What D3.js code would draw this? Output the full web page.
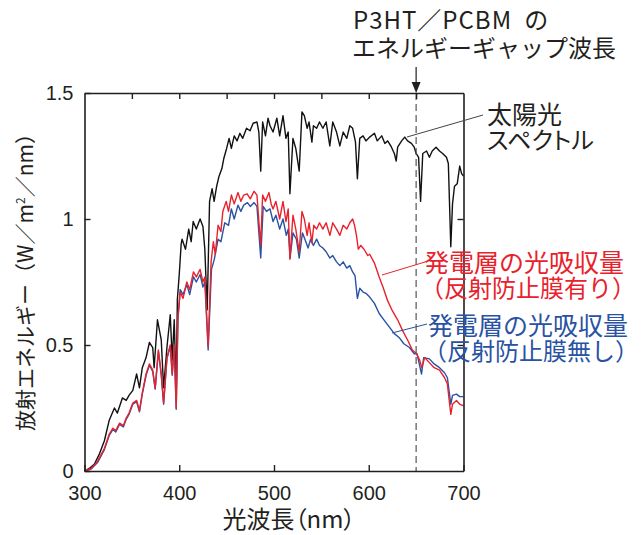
<!DOCTYPE html>
<html>
<head>
<meta charset="utf-8">
<script src="https://cdn.jsdelivr.net/npm/d3@7"></script>
<style>
  body { margin: 0; background: #fff; }
  svg { display: block; }
  .jp { font-family: "Noto Sans CJK JP", sans-serif; }
  .num { font-family: "Liberation Sans", Arial, sans-serif; }
</style>
</head>
<body>
<div id="chart"></div>
<script>
// 太陽光スペクトル [nm, W/m2/nm]
var solarSpectrum = [
    [300,0],[305,0.01],[310.5,0.028],[316,0.07],[321,0.12],[326,0.2],[331.6,0.25],[334.7,0.23],
    [340,0.29],[344,0.28],[347,0.3],[351,0.32],[355,0.385],[358,0.33],[361,0.41],[365,0.45],
    [368.5,0.51],[372,0.49],[373.5,0.41],[377,0.6],[381,0.52],[383.5,0.33],[387,0.49],[390.5,0.62],
    [392.6,0.44],[394.7,0.6],[396.8,0.31],[398,0.68],[400,0.78],[402,0.9],[403,0.92],[406.6,0.88],
    [410,0.96],[412.6,0.91],[414.7,0.99],[418,0.96],[422,1.0],[425,0.97],[427,0.88],[429.5,0.64],
    [432,1.07],[434.7,1.12],[436.8,1.07],[439.5,1.13],[442,1.17],[445,1.2],[447,1.24],[450,1.28],
    [452.6,1.32],[455,1.28],[458,1.33],[461,1.31],[464,1.34],[467,1.32],[471,1.36],[474.7,1.35],
    [478,1.38],[482,1.385],[484,1.345],[486,1.19],[488,1.385],[491,1.33],[493.7,1.4],[495.8,1.37],
    [499,1.345],[503,1.4],[506,1.33],[509.5,1.41],[512.6,1.32],[515,1.345],[516.8,1.1],[520,1.32],
    [523,1.28],[526.6,1.19],[529.5,1.425],[532,1.41],[535,1.36],[537,1.385],[540,1.305],[541.6,1.37],
    [545,1.36],[548,1.385],[551.6,1.36],[555,1.385],[558.9,1.29],[562,1.385],[566,1.345],[569.5,1.29],
    [573,1.345],[576.8,1.32],[580,1.37],[583,1.36],[586,1.305],[588,1.16],[590.5,1.32],[594,1.33],
    [597,1.31],[601,1.325],[606,1.34],[609,1.31],[613.7,1.33],[617,1.3],[620,1.31],[624,1.285],
    [627,1.26],[629,1.23],[630.5,1.285],[634.7,1.31],[638,1.325],[641,1.31],[645,1.3],[648,1.285],
    [650,1.26],[652.6,1.245],[654.7,1.07],[657,1.26],[661,1.27],[664,1.245],[667,1.27],[671,1.285],
    [674.7,1.27],[678,1.26],[682,1.245],[684,1.22],[686.6,0.89],[688.4,1.06],[690.5,1.13],[693.4,1.14],
    [696,1.21],[698,1.18],[700,1.17]
];

// 発電層の光吸収量（反射防止膜有り）
var absorbWithAR = [
    [300,0],[307,0.01],[314,0.04],[321,0.09],[326,0.145],[330,0.17],[333,0.16],[337,0.19],
    [341,0.18],[344,0.21],[347,0.23],[351,0.27],[355,0.28],[358,0.24],[361,0.31],[365,0.385],
    [368.5,0.425],[372,0.4],[374.6,0.33],[378,0.48],[381,0.385],[383.5,0.27],[387,0.45],[390.5,0.5],
    [392.6,0.385],[394.7,0.5],[396.8,0.25],[398.6,0.61],[401,0.71],[404,0.685],[408,0.75],[411,0.72],
    [415,0.79],[418,0.77],[422,0.8],[425,0.75],[427,0.77],[430.5,0.495],[433.6,0.83],[436,0.91],
    [438,0.86],[441,0.975],[444,0.95],[446,1.03],[449.5,1.07],[452,1.03],[455,1.095],[458,1.06],
    [462,1.105],[465,1.07],[468,1.095],[471.6,1.1],[475,1.08],[478.9,1.11],[482,1.095],[485.9,0.895],
    [488,1.095],[491,1.07],[494.7,1.105],[497,1.06],[499,1.04],[502,1.07],[506,1.0],[509.5,1.07],
    [512.6,0.99],[515,1.04],[516.8,0.84],[520,1.015],[523,0.96],[526.6,0.87],[529.5,1.03],[532,1.0],
    [535,0.935],[537,0.985],[540,0.905],[542,0.975],[545,0.96],[548,0.985],[551.6,0.96],[555,0.985],
    [559,0.935],[562,0.985],[566,0.96],[569.5,0.935],[573,0.975],[576.8,0.96],[580,0.985],[583,1.0],
    [585,0.975],[587,0.935],[589,0.88],[591.6,0.895],[595,0.88],[599,0.855],[601,0.86],[606,0.825],
    [611,0.77],[615,0.73],[620,0.675],[625,0.635],[630.5,0.6],[636,0.555],[641,0.52],[646,0.48],
    [650.5,0.465],[653.7,0.44],[656,0.41],[659,0.45],[664,0.43],[669,0.41],[674.7,0.4],[680,0.37],
    [683,0.345],[686.6,0.225],[688.4,0.265],[692.6,0.28],[696,0.265],[699,0.26],[700,0.26]
];

// 発電層の光吸収量（反射防止膜無し）
var absorbNoAR = [
    [300,0],[307,0.008],[314,0.035],[321,0.085],[326,0.14],[330,0.165],[333,0.155],[337,0.185],
    [341,0.175],[344,0.205],[347,0.225],[351,0.265],[355,0.275],[358,0.235],[361,0.305],[365,0.38],
    [368.5,0.42],[372,0.395],[374.6,0.325],[378,0.475],[381,0.38],[383.5,0.265],[387,0.445],[390.5,0.495],
    [392.6,0.38],[394.7,0.495],[396.8,0.245],[398.6,0.6],[401,0.72],[404,0.7],[408,0.74],[411,0.7],
    [415,0.77],[418,0.75],[422,0.78],[425,0.73],[427,0.75],[430.5,0.48],[434,0.8],[437,0.84],
    [441,0.92],[444,0.91],[448,0.985],[452,0.975],[455,1.04],[458,1.0],[462,1.055],[465,1.03],
    [468,1.055],[472,1.065],[475,1.05],[479,1.065],[482,1.05],[486,0.845],[488.6,1.05],[492,1.03],
    [495.8,1.04],[499,0.99],[502,1.015],[506,0.96],[509.5,1.0],[513,0.935],[515,0.96],[517,0.845],
    [520,0.945],[523.6,0.92],[526.6,0.845],[530,0.945],[532.6,0.92],[536,0.885],[538.6,0.92],[541.6,0.895],
    [545,0.92],[548,0.895],[551.6,0.885],[555,0.87],[559,0.845],[562,0.855],[566,0.83],[569.5,0.815],
    [573,0.83],[576.8,0.805],[580,0.815],[583,0.79],[585.5,0.775],[588,0.685],[590.5,0.725],[594,0.71],
    [597,0.705],[601,0.69],[606,0.665],[611,0.625],[616,0.6],[622,0.57],[627,0.545],[632,0.53],
    [637,0.505],[643,0.49],[648,0.465],[651,0.465],[655.7,0.385],[658,0.45],[664,0.445],[669,0.425],
    [674.7,0.41],[680,0.39],[683,0.37],[686.6,0.265],[688.4,0.3],[692.6,0.305],[696,0.295],[700,0.295]
];

var xTicks = [300, 400, 500, 600, 700];
var xMinorTicks = [350, 400, 450, 500, 550, 600, 650];
var yTicks = [0, 0.5, 1, 1.5];
var yTickLabels = ["0", "0.5", "1", "1.5"];
var gapWavelength = 650;

var width = 641, height = 535;
var plot = {left: 84.5, right: 463.5, top: 93, bottom: 471};
var ink = "#231f20";
var red = "#e8222c";
var blue = "#2952a3";

var svg = d3.select("#chart")
    .append("svg")
        .attr("width", width)
        .attr("height", height);

var x = d3.scaleLinear().domain([300, 700]).range([plot.left, plot.right]);
var y = d3.scaleLinear().domain([0, 1.5]).range([plot.bottom, plot.top]);

var line = d3.line()
    .x(function(d) { return x(d[0]); })
    .y(function(d) { return y(d[1]); });

// curves
svg.append("path").datum(solarSpectrum)
    .attr("d", line).attr("fill", "none")
    .attr("stroke", "#111").attr("stroke-width", 1.4).attr("stroke-linejoin", "round");
svg.append("path").datum(absorbNoAR)
    .attr("d", line).attr("fill", "none")
    .attr("stroke", blue).attr("stroke-width", 1.4).attr("stroke-linejoin", "round");
svg.append("path").datum(absorbWithAR)
    .attr("d", line).attr("fill", "none")
    .attr("stroke", red).attr("stroke-width", 1.4).attr("stroke-linejoin", "round");

// band gap line
svg.append("line")
    .attr("x1", x(gapWavelength)).attr("x2", x(gapWavelength))
    .attr("y1", plot.top).attr("y2", plot.bottom)
    .attr("stroke", "#555").attr("stroke-width", 1.2)
    .attr("stroke-dasharray", "7,4");
svg.append("line")
    .attr("x1", x(gapWavelength)).attr("x2", x(gapWavelength))
    .attr("y1", 67).attr("y2", 84)
    .attr("stroke", ink).attr("stroke-width", 1.2);
svg.append("path")
    .attr("d", "M" + (x(gapWavelength) - 4.5) + ",82L" + (x(gapWavelength) + 4.5) + ",82L" + x(gapWavelength) + ",93Z")
    .attr("fill", ink);

// axes (frame with inward ticks)
var axisG = svg.append("g").attr("class", "num");
axisG.append("g")
    .attr("transform", "translate(0," + plot.bottom + ")")
    .call(d3.axisBottom(x).tickValues(xTicks).tickSizeInner(-6).tickSizeOuter(0).tickPadding(15).tickFormat(d3.format("d")));
axisG.append("g")
    .attr("transform", "translate(0," + plot.top + ")")
    .call(d3.axisTop(x).tickValues(xMinorTicks).tickSizeInner(-6).tickSizeOuter(0).tickFormat(""));
axisG.append("g")
    .attr("transform", "translate(" + plot.left + ",0)")
    .call(d3.axisLeft(y).tickValues(yTicks).tickSizeInner(-6).tickSizeOuter(0).tickPadding(11)
        .tickFormat(function(d, i) { return yTickLabels[i]; }));
axisG.append("g")
    .attr("transform", "translate(" + plot.right + ",0)")
    .call(d3.axisRight(y).tickValues([0.5, 1]).tickSizeInner(-6).tickSizeOuter(0).tickFormat(""));

axisG.selectAll(".domain").attr("stroke", ink).attr("stroke-width", 1.6);
axisG.selectAll(".tick line").attr("stroke", ink).attr("stroke-width", 1.4);
axisG.selectAll(".tick text")
    .attr("fill", ink)
    .style("font-family", "'Liberation Sans', Arial, sans-serif")
    .style("font-size", "20px");

// axis titles
svg.append("text")
    .attr("class", "jp")
    .attr("x", 289).attr("y", 528)
    .attr("text-anchor", "middle")
    .style("font-size", "24px")
    .style("font-feature-settings", "'palt'")
    .attr("fill", ink)
    .text("光波長（nm）");

svg.append("text")
    .attr("class", "jp")
    .attr("transform", "translate(33,277) rotate(-90)")
    .attr("text-anchor", "middle")
    .style("font-size", "21px")
    .attr("fill", ink)
    .html("放射エネルギー（W／m<tspan dy='-8' style='font-size:12px'>2</tspan><tspan dy='8'>／nm）</tspan>");

// annotations: one text element each, lines as tspans
var title = svg.append("text")
    .attr("class", "jp")
    .attr("x", 353).attr("y", 29)
    .style("font-size", "24px")
    .attr("fill", ink);
title.append("tspan").style("letter-spacing", "1px").text("P3HT／PCBM");
title.append("tspan").attr("dx", 12).text("の");
title.append("tspan").attr("x", 352).attr("y", 57).text("エネルギーギャップ波長");

var notes = [
    {lines: ["太陽光", "スペクトル"], x: [487, 487], y: [124, 149], color: ink, size: [25, 24], palt: [false, true]},
    {lines: ["発電層の光吸収量", "（反射防止膜有り）"], x: [424, 420], y: [272, 297], color: red, size: [25, 24], palt: [false, false]},
    {lines: ["発電層の光吸収量", "（反射防止膜無し）"], x: [428, 423], y: [335, 360], color: blue, size: [25, 24], palt: [false, false]}
];
notes.forEach(function(n) {
    var t = svg.append("text")
        .attr("class", "jp")
        .attr("fill", n.color);
    n.lines.forEach(function(s, i) {
        t.append("tspan")
            .attr("x", n.x[i])
            .attr("y", n.y[i])
            .style("font-size", n.size[i] + "px")
            .style("font-feature-settings", n.palt[i] ? "'palt'" : "normal")
            .text(s);
    });
});

// leader lines
var leaders = [
    {from: [407, 137], to: [483, 115], color: "#444"},
    {from: [382, 275], to: [425, 262], color: red},
    {from: [392, 333], to: [427, 324], color: blue}
];
svg.selectAll(".leader")
    .data(leaders)
    .enter()
    .append("line")
    .attr("x1", function(d) { return d.from[0]; })
    .attr("y1", function(d) { return d.from[1]; })
    .attr("x2", function(d) { return d.to[0]; })
    .attr("y2", function(d) { return d.to[1]; })
    .attr("stroke", function(d) { return d.color; })
    .attr("stroke-width", 1);
</script>
</body>
</html>
